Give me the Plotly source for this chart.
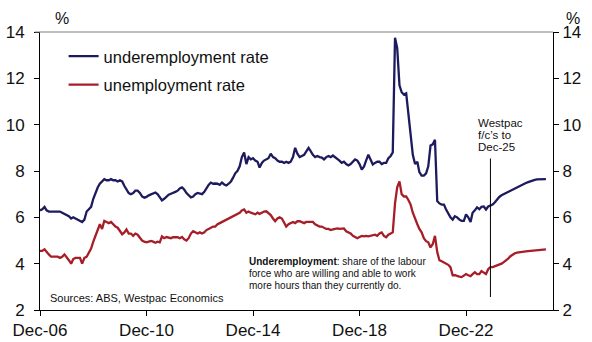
import pandas as pd
import plotly.graph_objects as go

# ---------------- data (monthly, Dec-2006 .. Dec-2025) ----------------
start_month = "2006-12-01"
last_actual = "2023-11-01"

under_actual = [
    6.3,  # Dec-06
    6.35, 6.45, 6.3, 6.25, 6.25, 6.25, 6.25, 6.25, 6.25, 6.2, 6.15, 6.1,      # 2007
    6.05, 5.95, 6.0, 5.95, 5.9, 5.85, 5.8, 5.9, 6.25, 6.35, 6.45, 6.8,       # 2008
    7.1, 7.3, 7.45, 7.55, 7.65, 7.6, 7.6, 7.65, 7.6, 7.6, 7.55, 7.6,         # 2009
    7.55, 7.35, 7.2, 7.05, 7.0, 7.05, 7.15, 7.15, 7.05, 6.9, 6.85, 6.88,     # 2010
    6.95, 7.0, 7.05, 7.07, 7.0, 6.85, 6.73, 6.8, 6.9, 6.98, 7.02, 7.05,      # 2011
    7.1, 7.15, 7.25, 7.29, 7.2, 7.05, 6.95, 6.86, 6.9, 7.0, 7.05, 7.03,      # 2012
    7.0, 7.1, 7.25, 7.4, 7.5, 7.45, 7.46, 7.45, 7.4, 7.5, 7.42, 7.38,        # 2013
    7.45, 7.55, 7.7, 7.9, 8.0, 8.2, 8.6, 8.8, 8.3, 8.6, 8.5, 8.55,           # 2014
    8.45, 8.4, 8.15, 8.35, 8.45, 8.5, 8.55, 8.75, 8.6, 8.55, 8.45, 8.4,      # 2015
    8.4, 8.35, 8.4, 8.35, 8.4, 8.6, 9.0, 8.75, 8.6, 8.65, 8.7, 8.85,         # 2016
    9.0, 8.85, 8.7, 8.6, 8.65, 8.6, 8.58, 8.5, 8.6, 8.65, 8.6, 8.67,         # 2017
    8.6, 8.5, 8.45, 8.35, 8.4, 8.3, 8.24, 8.3, 8.4, 8.5, 8.45, 8.3,          # 2018
    8.06, 8.2, 8.45, 8.7, 8.5, 8.28, 8.35, 8.4, 8.4, 8.3, 8.35, 8.35,        # 2019
    8.55, 8.65, 8.8, 13.75, 13.3, 11.7, 11.4, 11.3, 11.35, 10.5, 9.6, 8.7,   # 2020
    8.3, 8.4, 7.95, 7.8, 7.8, 7.9, 8.2, 9.1, 9.15, 9.35, 6.7, 6.6,           # 2021
    6.55, 6.55, 6.35, 6.15, 6.0, 5.9, 6.05, 6.0, 5.9, 5.85, 5.85, 6.13,      # 2022
    6.0, 5.8, 6.2, 6.3, 6.43, 6.35, 6.45, 6.47, 6.34, 6.47, 6.5,             # 2023 (to Nov)
]
under_forecast = [
    6.55,                                                                     # Dec-23
    6.65, 6.78, 6.88, 6.95, 7.0, 7.05, 7.1, 7.15, 7.2, 7.25, 7.3, 7.35,      # 2024
    7.4, 7.44, 7.48, 7.52, 7.56, 7.59, 7.62, 7.64, 7.65, 7.65, 7.65, 7.65,   # 2025
]

unemp_actual = [
    4.55,  # Dec-06
    4.55, 4.62, 4.5, 4.4, 4.3, 4.3, 4.3, 4.3, 4.25, 4.3, 4.4, 4.3,           # 2007
    4.15, 4.0, 4.2, 4.25, 4.25, 4.25, 4.0, 4.25, 4.3, 4.45, 4.65, 4.95,      # 2008
    5.2, 5.5, 5.7, 5.5, 5.85, 5.8, 5.75, 5.8, 5.7, 5.6, 5.55, 5.4,           # 2009
    5.27, 5.35, 5.48, 5.3, 5.3, 5.2, 5.3, 5.25, 5.1, 5.0, 4.95, 4.92,        # 2010
    4.95, 4.98, 4.95, 4.9, 4.95, 4.92, 5.18, 5.1, 5.15, 5.14, 5.1, 5.14,     # 2011
    5.15, 5.14, 5.1, 5.15, 5.05, 5.0, 5.1, 5.3, 5.4, 5.35, 5.3, 5.35,        # 2012
    5.3, 5.35, 5.45, 5.5, 5.55, 5.6, 5.6, 5.7, 5.75, 5.8, 5.85, 5.9,         # 2013
    5.95, 6.0, 6.05, 6.1, 6.15, 6.2, 6.3, 6.34, 6.2, 6.25, 6.2, 6.15,        # 2014
    6.13, 6.2, 6.15, 6.2, 6.25, 6.26, 6.2, 6.1, 5.95, 5.83, 5.95, 6.0,       # 2015
    5.95, 5.8, 5.6, 5.7, 5.75, 5.8, 5.75, 5.83, 5.83, 5.8, 5.75, 5.8,        # 2016
    5.8, 5.83, 5.8, 5.7, 5.65, 5.6, 5.6, 5.55, 5.5, 5.5, 5.45, 5.48,         # 2017
    5.5, 5.52, 5.5, 5.5, 5.52, 5.4, 5.35, 5.3, 5.2, 5.14, 5.1, 5.15,         # 2018
    5.2, 5.18, 5.2, 5.18, 5.2, 5.25, 5.25, 5.2, 5.3, 5.35, 5.2, 5.14,        # 2019
    5.25, 5.3, 5.35, 6.6, 7.3, 7.55, 7.0, 6.9, 6.9, 6.75, 6.55, 6.2,         # 2020
    5.9, 5.7, 5.5, 5.35, 5.1, 4.97, 4.92, 4.7, 4.85, 5.2, 4.5, 4.15,         # 2021
    4.1, 4.06, 4.0, 3.95, 3.85, 3.5, 3.5, 3.46, 3.44, 3.42, 3.5, 3.55,       # 2022
    3.5, 3.46, 3.55, 3.63, 3.55, 3.55, 3.68, 3.6, 3.55, 3.76, 3.85,          # 2023 (to Nov)
]
unemp_forecast = [
    3.85,                                                                     # Dec-23
    3.88, 3.92, 3.96, 4.0, 4.07, 4.14, 4.22, 4.32, 4.4, 4.45, 4.48, 4.5,     # 2024
    4.51, 4.52, 4.53, 4.54, 4.55, 4.56, 4.57, 4.58, 4.59, 4.6, 4.61, 4.62,   # 2025
]

x_tick_vals = ["2006-12-01", "2010-12-01", "2014-12-01", "2018-12-01", "2022-12-01"]
x_tick_text = ["Dec-06", "Dec-10", "Dec-14", "Dec-18", "Dec-22"]
y_tick_vals = [2, 4, 6, 8, 10, 12, 14]
forecast_line_y = [2.56, 8.54]

# ---------------- figure ----------------
under = under_actual + under_forecast
unemp = unemp_actual + unemp_forecast
dates = pd.date_range(start_month, periods=len(under), freq="MS")

NAVY = "#1d1b5e"
RED = "#a61e27"
FONT = "Liberation Sans, Arial, sans-serif"
TXT = "#111111"

fig = go.Figure()
fig.add_trace(go.Scatter(x=dates, y=under, mode="lines", name="underemployment rate",
                         line=dict(color=NAVY, width=2.3), legendgroup="a"))
fig.add_trace(go.Scatter(x=dates, y=unemp, mode="lines", name="unemployment rate",
                         line=dict(color=RED, width=2.3), legendgroup="b"))
# invisible trace to carry the right-hand axis
fig.add_trace(go.Scatter(x=[dates[0]], y=[None], yaxis="y2", showlegend=False,
                         hoverinfo="skip", mode="lines"))

fig.add_shape(type="line", xref="x", yref="y", x0=last_actual, x1=last_actual,
              y0=forecast_line_y[0], y1=forecast_line_y[1],
              line=dict(color="black", width=1))
# top frame line
fig.add_shape(type="line", xref="paper", yref="paper", x0=-0.01, x1=1, y0=1, y1=1,
              line=dict(color="#7f7f7f", width=1))

axis_common = dict(range=[2, 14], tickvals=y_tick_vals, ticks="outside", ticklen=5,
                   tickcolor="black", showline=True, linecolor="black", linewidth=1,
                   showgrid=False, zeroline=False, automargin=False,
                   tickfont=dict(family=FONT, size=17, color=TXT))


def note(x_px, y_px, text, size):
    return dict(xref="paper", yref="paper", x=x_px / 513, y=(310 - y_px) / 278,
                xanchor="left", yanchor="middle", align="left", showarrow=False,
                text=text, font=dict(family=FONT, size=size, color=TXT))


fig.update_layout(
    width=592, height=342,
    margin=dict(l=40, r=39, t=32, b=32, autoexpand=False),
    paper_bgcolor="white", plot_bgcolor="white",
    font=dict(family=FONT, color=TXT),
    showlegend=True,
    legend=dict(x=0.046, y=0.975, xanchor="left", yanchor="top",
                font=dict(family=FONT, size=16.5, color=TXT),
                bgcolor="rgba(0,0,0,0)", traceorder="grouped", tracegroupgap=4),
    xaxis=dict(type="date", range=["2006-12-01", "2026-03-08"],
               tickvals=x_tick_vals, ticktext=x_tick_text,
               ticks="outside", ticklen=5, tickcolor="black",
               showline=True, linecolor="black", linewidth=1,
               showgrid=False, zeroline=False, automargin=False,
               tickfont=dict(family=FONT, size=17, color=TXT)),
    yaxis=dict(side="left", ticklabelstandoff=6, **axis_common),
    yaxis2=dict(side="right", overlaying="y", **axis_common),
    annotations=[
        dict(xref="paper", yref="paper", x=21.5 / 513, y=1, yshift=14, text="%",
             xanchor="center", yanchor="middle",
             showarrow=False, font=dict(family=FONT, size=16, color=TXT)),
        dict(xref="paper", yref="paper", x=533 / 513, y=1, yshift=14, text="%",
             xanchor="center", yanchor="middle",
             showarrow=False, font=dict(family=FONT, size=16, color=TXT)),
        note(8, 298, "Sources: ABS, Westpac Economics", 11),
        note(207, 261, "<b>Underemployment</b>: share of the labour", 10),
        note(207, 273, "force who are willing and able to work", 10),
        note(207, 285, "more hours than they currently do.", 10),
        note(436, 123, "Westpac", 11.5),
        note(436, 135, "f/c’s to", 11.5),
        note(436, 147, "Dec-25", 11.5),
    ],
)

fig.write_html("out.html")
